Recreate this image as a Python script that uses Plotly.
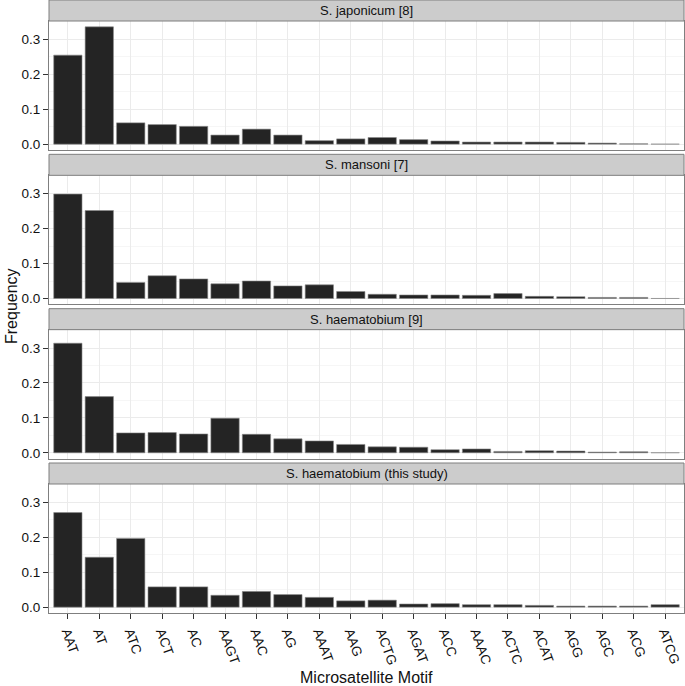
import plotly.graph_objects as go

motifs = ["AAT", "AT", "ATC", "ACT", "AC", "AAGT", "AAC", "AG", "AAAT", "AAG",
          "ACTG", "AGAT", "ACC", "AAAC", "ACTC", "ACAT", "AGG", "AGC", "ACG", "ATCG"]

japonicum = [0.255, 0.336, 0.061, 0.056, 0.051, 0.026, 0.043, 0.026, 0.010, 0.015,
             0.019, 0.013, 0.009, 0.006, 0.006, 0.006, 0.005, 0.003, 0.001, 0.0]
mansoni = [0.299, 0.252, 0.046, 0.065, 0.056, 0.042, 0.050, 0.036, 0.039, 0.020,
           0.012, 0.010, 0.010, 0.009, 0.014, 0.006, 0.005, 0.003, 0.003, 0.0]
haematobium_9 = [0.314, 0.161, 0.057, 0.058, 0.054, 0.099, 0.053, 0.040, 0.034, 0.024,
                 0.017, 0.016, 0.009, 0.011, 0.004, 0.006, 0.005, 0.002, 0.003, 0.0005]
haematobium_study = [0.271, 0.143, 0.197, 0.058, 0.058, 0.034, 0.045, 0.036, 0.028, 0.018,
                     0.020, 0.009, 0.010, 0.007, 0.007, 0.005, 0.003, 0.003, 0.003, 0.007]

panel_titles = ["S. japonicum [8]", "S. mansoni [7]", "S. haematobium [9]",
                "S. haematobium (this study)"]
series = [japonicum, mansoni, haematobium_9, haematobium_study]

y_ticks = [0.0, 0.1, 0.2, 0.3]
y_tick_text = ["0.0", "0.1", "0.2", "0.3"]
y_minor = [0.05, 0.15, 0.25, 0.35]

W, H = 685, 686
L, R, T, B = 49, 1, 0, 73
PH = H - T - B
panel_h, strip_h = 150.0, 21.0
gap = (PH - 4 * panel_h) / 3.0


def yp(px):
    return (PH - px) / PH


FONT = "Liberation Sans, Arial, Helvetica, sans-serif"
BORDER = "#7f7f7f"

fig = go.Figure()
shapes = []
annotations = []

for i, (vals, title) in enumerate(zip(series, panel_titles)):
    n = i + 1
    xa = "x" if n == 1 else f"x{n}"
    ya = "y" if n == 1 else f"y{n}"
    fig.add_trace(go.Bar(
        x=motifs, y=vals, xaxis=xa, yaxis=ya, width=0.9,
        marker=dict(color="#242424", line=dict(color="#8a8a8a", width=0.6)),
        showlegend=False, hoverinfo="x+y",
    ))
    top = i * (panel_h + gap)
    strip_top, strip_bot = top, top + strip_h
    plot_bot = top + panel_h
    last = (i == 3)
    xkey = "xaxis" if n == 1 else f"xaxis{n}"
    ykey = "yaxis" if n == 1 else f"yaxis{n}"
    fig.update_layout(**{
        xkey: dict(
            domain=[0, 1], anchor=ya, type="category",
            categoryorder="array", categoryarray=motifs,
            range=[-0.6, len(motifs) - 0.4], autorange=False, automargin=False,
            showgrid=True, gridcolor="#ebebeb", gridwidth=1,
            showline=True, mirror=True, linecolor=BORDER, linewidth=1,
            ticks="outside" if last else "", ticklen=5, tickcolor="#333333",
            showticklabels=last, tickangle=70,
            tickfont=dict(family=FONT, size=13.5, color="#111111"),
        ),
        ykey: dict(
            domain=[yp(plot_bot), yp(strip_bot)], anchor=xa,
            range=[-0.0168, 0.3528], autorange=False, automargin=False,
            tickvals=y_ticks, ticktext=y_tick_text,
            showgrid=True, gridcolor="#ebebeb", gridwidth=1, zeroline=False,
            minor=dict(tickvals=y_minor, showgrid=True, gridcolor="#f6f6f6", ticks=""),
            showline=True, mirror=True, linecolor=BORDER, linewidth=1,
            ticks="outside", ticklen=5, tickcolor="#333333",
            tickfont=dict(family=FONT, size=13.5, color="#111111"),
        ),
    })
    shapes.append(dict(
        type="rect", xref="paper", yref="paper",
        x0=0, x1=1, y0=yp(strip_bot), y1=yp(strip_top),
        fillcolor="#cccccc", line=dict(color=BORDER, width=1), layer="above",
    ))
    annotations.append(dict(
        text=title, xref="paper", yref="paper",
        x=0.5, y=(yp(strip_bot) + yp(strip_top)) / 2,
        xanchor="center", yanchor="middle", showarrow=False,
        font=dict(family=FONT, size=13, color="#111111"),
    ))

annotations.append(dict(
    text="Microsatellite Motif", xref="paper", yref="paper",
    x=0.5, y=yp(677), xanchor="center", yanchor="middle", showarrow=False,
    font=dict(family=FONT, size=16, color="#111111"),
))
annotations.append(dict(
    text="Frequency", xref="paper", yref="paper",
    x=(11 - L) / (W - L - R), y=yp(306), xanchor="center", yanchor="middle",
    textangle=-90, showarrow=False,
    font=dict(family=FONT, size=16, color="#111111"),
))

fig.update_layout(
    width=W, height=H,
    margin=dict(l=L, r=R, t=T, b=B, pad=0, autoexpand=False),
    paper_bgcolor="white", plot_bgcolor="white",
    bargap=0.1, shapes=shapes, annotations=annotations,
    font=dict(family=FONT),
)

fig.write_html(
    "out.html",
    config={"displayModeBar": False},
    post_script="document.body.style.margin='0px';document.body.style.overflow='hidden';",
)
